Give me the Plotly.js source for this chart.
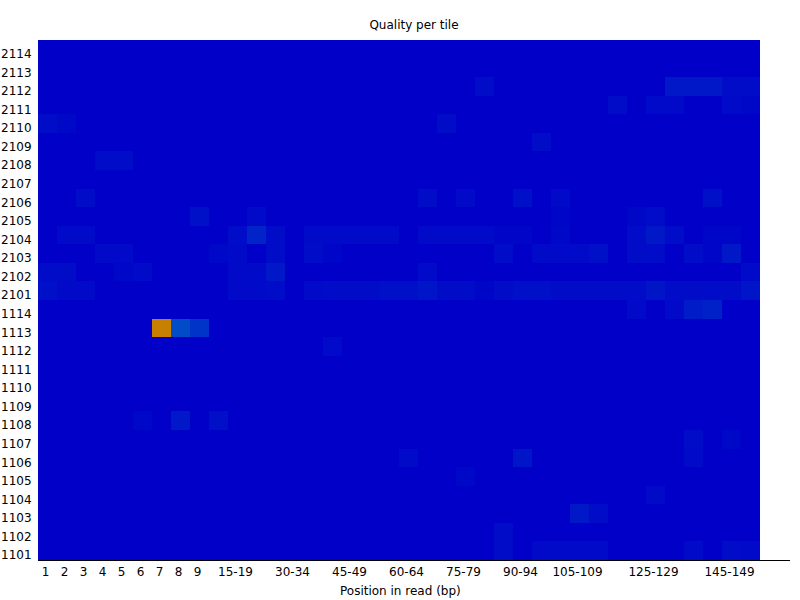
<!DOCTYPE html>
<html>
<head>
<meta charset="utf-8">
<script src="https://cdn.plot.ly/plotly-3.0.1.min.js"></script>
<style>html,body{margin:0;padding:0;background:#fff;}#chart{width:800px;height:600px;}</style>
</head>
<body>
<div id="chart"></div>
<script>
// Position categories (columns)
const positions = ["1","2","3","4","5","6","7","8","9",
  "10-14","15-19","20-24","25-29","30-34","35-39","40-44","45-49","50-54","55-59",
  "60-64","65-69","70-74","75-79","80-84","85-89","90-94","95-99","100-104","105-109",
  "110-114","115-119","120-124","125-129","130-134","135-139","140-144","145-149","150-151"];
// Tick labels shown on the x axis
const shownTicks = ["1","2","3","4","5","6","7","8","9","15-19","30-34","45-49","60-64","75-79","90-94","105-109","125-129","145-149"];
// Tiles, top to bottom
const tiles = ["2114","2113","2112","2111","2110","2109","2108","2107","2106","2105","2104","2103","2102","2101",
  "1114","1113","1112","1111","1110","1109","1108","1107","1106","1105","1104","1103","1102","1101"];

// Deviation from mean quality (estimated), one array per tile, 38 values each
const t2114 = [0,0,0,0,0,0,0,0,0,0,0,0,0,0,0,0,0,0,0,0,0,0,0,0,0,0,0,0,0,0,0,0,0,0,0,0,0,0];
const t2113 = [0,0,0,0,0,0,0,0,0,0,0,0,0,0,0,0,0,0,0,0,0,0,0,0,0,0,0,0,0,0,0,0,0,0,0,0,0,0];
const t2112 = [0,0,0,0,0,0,0,0,0,0,0,0,0,0,0,0,0,0,0,0,0,0,0,0.15,0,0,0,0,0,0,0,0,0,0.3,0.3,0.3,0.15,0.15];
const t2111 = [0,0,0,0,0,0,0,0,0,0,0,0,0,0,0,0,0,0,0,0,0,0,0,0,0,0,0,0,0,0,0.15,0,0.12,0.12,0,0,0.12,0.1];
const t2110 = [0.15,0.1,0,0,0,0,0,0,0,0,0,0,0,0,0,0,0,0,0,0,0,0.15,0,0,0,0,0,0,0,0,0,0,0,0,0,0,0,0];
const t2109 = [0,0,0,0,0,0,0,0,0,0,0,0,0,0,0,0,0,0,0,0,0,0,0,0,0,0,0.15,0,0,0,0,0,0,0,0,0,0,0];
const t2108 = [0,0,0,0.15,0.15,0,0,0,0,0,0,0,0,0,0,0,0,0,0,0,0,0,0,0,0,0,0,0,0,0,0,0,0,0,0,0,0,0];
const t2107 = [0,0,0,0,0,0,0,0,0,0,0,0,0,0,0,0,0,0,0,0,0,0,0,0,0,0,0,0,0,0,0,0,0,0,0,0,0,0];
const t2106 = [0,0,0.15,0,0,0,0,0,0,0,0,0,0,0,0,0,0,0,0,0,0.15,0,0.12,0,0,0.2,0,0.12,0,0,0,0,0,0,0,0.2,0,0];
const t2105 = [0,0,0,0,0,0,0,0,0.2,0,0,0.12,0,0,0,0,0,0,0,0,0,0,0,0,0,0,0,0.08,0,0,0,0.1,0.15,0,0,0,0,0];
const t2104 = [0,0.12,0.12,0,0,0,0,0,0,0,0.15,0.45,0.15,0,0.12,0.12,0.12,0.12,0.12,0,0.12,0.12,0.12,0.12,0.06,0.06,0,0.1,0,0,0,0.15,0.3,0.15,0,0.08,0.08,0];
const t2103 = [0,0,0,0.12,0.12,0,0,0,0,0.1,0.12,0,0.15,0,0.15,0.08,0,0,0,0,0,0,0,0,0.15,0,0.12,0.12,0.12,0.2,0,0.15,0.15,0,0.15,0.08,0.3,0];
const t2102 = [0.15,0.15,0,0,0.1,0.12,0,0,0,0,0.12,0.12,0.3,0,0,0,0,0,0,0,0.12,0,0,0,0,0,0,0,0,0,0,0,0,0,0,0,0,0.12];
const t2101 = [0.2,0.12,0.12,0,0,0,0,0,0,0,0.12,0.12,0.15,0,0.12,0.15,0.15,0.15,0.2,0.2,0.25,0.15,0.15,0.08,0.15,0.2,0.2,0.15,0.15,0.15,0.15,0.15,0.25,0.15,0.15,0.15,0.15,0.25];
const t1114 = [0,0,0,0,0,0,0,0,0,0,0,0,0,0,0,0,0,0,0,0,0,0,0,0,0,0,0,0,0,0,0,0.12,0,0.12,0.35,0.4,0,0];
const t1113 = [0,0,0,0,0,0,8.4,0.95,0.65,0,0,0,0,0,0,0,0,0,0,0,0,0,0,0,0,0,0,0,0,0,0,0,0,0,0,0,0,0];
const t1112 = [0,0,0,0,0,0,0,0,0,0,0,0,0,0,0,0.12,0,0,0,0,0,0,0,0,0,0,0,0,0,0,0,0,0,0,0,0,0,0];
const t1111 = [0,0,0,0,0,0,0,0,0,0,0,0,0,0,0,0,0,0,0,0,0,0,0,0,0,0,0,0,0,0,0,0,0,0,0,0,0,0];
const t1110 = [0,0,0,0,0,0,0,0,0,0,0,0,0,0,0,0,0,0,0,0,0,0,0,0,0,0,0,0,0,0,0,0,0,0,0,0,0,0];
const t1109 = [0,0,0,0,0,0,0,0,0,0,0,0,0,0,0,0,0,0,0,0,0,0,0,0,0,0,0,0,0,0,0,0,0,0,0,0,0,0];
const t1108 = [0,0,0,0,0,0.1,0,0.3,0,0.2,0,0,0,0,0,0,0,0,0,0,0,0,0,0,0,0,0,0,0,0,0,0,0,0,0,0,0,0];
const t1107 = [0,0,0,0,0,0,0,0,0,0,0,0,0,0,0,0,0,0,0,0,0,0,0,0,0,0,0,0,0,0,0,0,0,0,0.15,0,0.1,0];
const t1106 = [0,0,0,0,0,0,0,0,0,0,0,0,0,0,0,0,0,0,0,0.12,0,0,0,0,0,0.25,0,0,0,0,0,0,0,0,0.12,0,0,0];
const t1105 = [0,0,0,0,0,0,0,0,0,0,0,0,0,0,0,0,0,0,0,0,0,0,0.1,0,0,0,0,0,0,0,0,0,0,0,0,0,0,0];
const t1104 = [0,0,0,0,0,0,0,0,0,0,0,0,0,0,0,0,0,0,0,0,0,0,0,0,0,0,0,0,0,0,0,0,0.12,0,0,0,0,0];
const t1103 = [0,0,0,0,0,0,0,0,0,0,0,0,0,0,0,0,0,0,0,0,0,0,0,0,0,0,0,0,0.3,0.15,0,0,0,0,0,0,0,0];
const t1102 = [0,0,0,0,0,0,0,0,0,0,0,0,0,0,0,0,0,0,0,0,0,0,0,0,0.15,0,0,0,0,0,0,0,0,0,0,0,0,0];
const t1101 = [0,0,0,0,0,0,0,0,0,0,0,0,0,0,0,0,0,0,0,0,0,0,0,0,0.15,0,0.12,0.12,0.12,0.12,0,0,0,0,0.12,0,0.15,0.12];

const z = [t2114,t2113,t2112,t2111,t2110,t2109,t2108,t2107,t2106,t2105,t2104,t2103,t2102,t2101,
  t1114,t1113,t1112,t1111,t1110,t1109,t1108,t1107,t1106,t1105,t1104,t1103,t1102,t1101];

const W = 800, H = 600;
const mL = 38, mR = 10, mT = 40, mB = 40;
const plotW = W - mL - mR;
const plotH = H - mT - mB;
const colPx = 19;
const rowPx = plotH / tiles.length;
const xMax = -0.5 + plotW / colPx;
// label offsets in pixels (labels sit slightly left / lower than cell centres)
const xLabelShift = 2 / colPx;
const yLabelShift = 4.5 / rowPx;

const font = {family: "DejaVu Sans, sans-serif", size: 12, color: "#000"};

const heat = {
  type: "heatmap",
  x: positions,
  y: tiles,
  z: z,
  zmin: 0,
  zmax: 10,
  colorscale: [[0,"rgb(0,0,200)"],[0.25,"rgb(0,200,200)"],[0.5,"rgb(0,200,0)"],[0.75,"rgb(200,200,0)"],[1,"rgb(200,0,0)"]],
  showscale: false,
  hoverinfo: "skip"
};
// invisible anchor traces that carry the category labels for the label axes
const yLabelTrace = {
  type: "scatter", mode: "markers", xaxis: "x", yaxis: "y2",
  x: tiles.map(() => positions[0]), y: tiles,
  marker: {opacity: 0, size: 1}, hoverinfo: "skip", showlegend: false
};
const xLabelTrace = {
  type: "scatter", mode: "markers", xaxis: "x2", yaxis: "y",
  x: positions, y: positions.map(() => tiles[0]),
  marker: {opacity: 0, size: 1}, hoverinfo: "skip", showlegend: false
};

const layout = {
  width: W, height: H,
  margin: {l: mL, r: mR, t: mT, b: mB, pad: 0},
  paper_bgcolor: "#fff",
  plot_bgcolor: "#fff",
  font: font,
  showlegend: false,
  title: {text: "Quality per tile", font: font, x: (mL + plotW/2)/W, xref: "container", xanchor: "center", y: 1 - 25/H, yref: "container", yanchor: "middle"},
  xaxis: {
    type: "category",
    categoryorder: "array",
    categoryarray: positions,
    range: [-0.5, xMax],
    showticklabels: false, ticks: "",
    showgrid: false, zeroline: false,
    showline: true, linecolor: "#000", linewidth: 1,
    fixedrange: true
  },
  xaxis2: {
    type: "category",
    categoryorder: "array",
    categoryarray: positions,
    overlaying: "x",
    side: "bottom",
    anchor: "y",
    range: [-0.5 + xLabelShift, xMax + xLabelShift],
    tickmode: "array",
    tickvals: shownTicks,
    ticktext: shownTicks,
    ticks: "outside", ticklen: 1, tickcolor: "rgba(0,0,0,0)",
    tickangle: 0,
    showgrid: false, zeroline: false, showline: false,
    tickfont: font,
    fixedrange: true
  },
  yaxis: {
    type: "category",
    categoryorder: "array",
    categoryarray: tiles,
    range: [tiles.length - 0.5, -0.5],
    showticklabels: false, ticks: "",
    showgrid: false, zeroline: false, showline: false,
    fixedrange: true
  },
  yaxis2: {
    type: "category",
    categoryorder: "array",
    categoryarray: tiles,
    overlaying: "y",
    side: "left",
    anchor: "x",
    range: [tiles.length - 0.5 - yLabelShift, -0.5 - yLabelShift],
    ticks: "outside", ticklen: 3, tickcolor: "rgba(0,0,0,0)",
    showgrid: false, zeroline: false, showline: false,
    tickfont: font,
    fixedrange: true
  },
  annotations: [{
    text: "Position in read (bp)",
    xref: "paper", yref: "paper",
    x: (400 - mL) / plotW, y: -(591 - (H - mB)) / plotH,
    xanchor: "center", yanchor: "middle",
    showarrow: false, font: font
  }]
};

Plotly.newPlot("chart", [heat, yLabelTrace, xLabelTrace], layout, {staticPlot: true, displayModeBar: false});
</script>
</body>
</html>
